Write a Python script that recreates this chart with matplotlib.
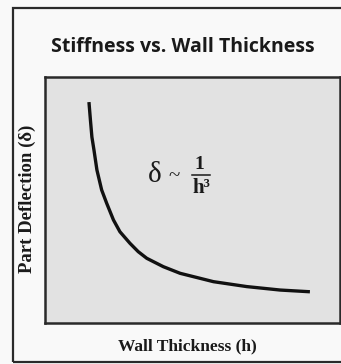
import matplotlib
matplotlib.use("Agg")
import matplotlib.pyplot as plt
from matplotlib.patches import Rectangle

# Curve (arbitrary units, axes span 0..10 both ways)
thickness = [1.49, 1.54, 1.59, 1.66, 1.76, 1.92, 2.09, 2.32, 2.54, 2.88, 3.16, 3.45,
             4.01, 4.58, 5.71, 6.84, 7.97, 8.98]
deflection = [8.98, 8.25, 7.56, 7.03, 6.22, 5.41, 4.87, 4.19, 3.71, 3.24, 2.90, 2.63,
              2.29, 2.02, 1.68, 1.48, 1.34, 1.27]

title = "Stiffness vs. Wall Thickness"
xlabel = "Wall Thickness (h)"
ylabel = "Part Deflection (δ)"

fig = plt.figure(figsize=(3.41, 3.64), dpi=100)
fig.patch.set_facecolor('#f9f9f9')

# outer frame
fig.patches.append(Rectangle((13/341, 2/364), 1.05, 354/364, transform=fig.transFigure,
                             fill=False, edgecolor='#2a2a2a', linewidth=1.6, clip_on=False))

ax = fig.add_axes([45/341, 41/364, 295/341, 246/364])
ax.set_facecolor('#e2e2e2')
ax.plot(thickness, deflection, color='#111111', linewidth=2.4,
        solid_capstyle='butt', solid_joinstyle='round')
ax.set_xlim(0, 10)
ax.set_ylim(0, 10)
ax.set_xticks([])
ax.set_yticks([])
for s in ax.spines.values():
    s.set_linewidth(1.8)
    s.set_color('#2a2a2a')

serif = 'Liberation Serif'
tc = '#1a1a1a'
# formula  delta ~ 1/h^3
ax.text(3.73, 6.02, "δ", fontsize=21, family=serif, color=tc, ha='center', va='center')
ax.text(4.36, 5.95, "~", fontsize=15, family=serif, color=tc, ha='center', va='center')
ax.text(5.24, 6.45, "1", fontsize=14, family=serif, fontweight='bold', color=tc,
        ha='center', va='center')
ax.plot([4.98, 5.59], [6.02, 6.02], color=tc, linewidth=1.1)
ax.text(5.30, 5.48, "h³", fontsize=15, family=serif, fontweight='bold', color=tc,
        ha='center', va='center')

fig.text(182.5/341, (364-52)/364, title, ha='center', va='baseline',
         fontsize=14, fontweight='bold', family='Open Sans', color='#1a1a1a')
fig.text(187.5/341, (364-350)/364, xlabel, ha='center', va='baseline',
         fontsize=12.5, fontweight='bold', family=serif, color=tc)
fig.text(27/341, (364-199)/364, ylabel, ha='center', va='center', rotation=90,
         fontsize=13.5, fontweight='bold', family=serif, color=tc)

fig.savefig('out.png', dpi=100)
